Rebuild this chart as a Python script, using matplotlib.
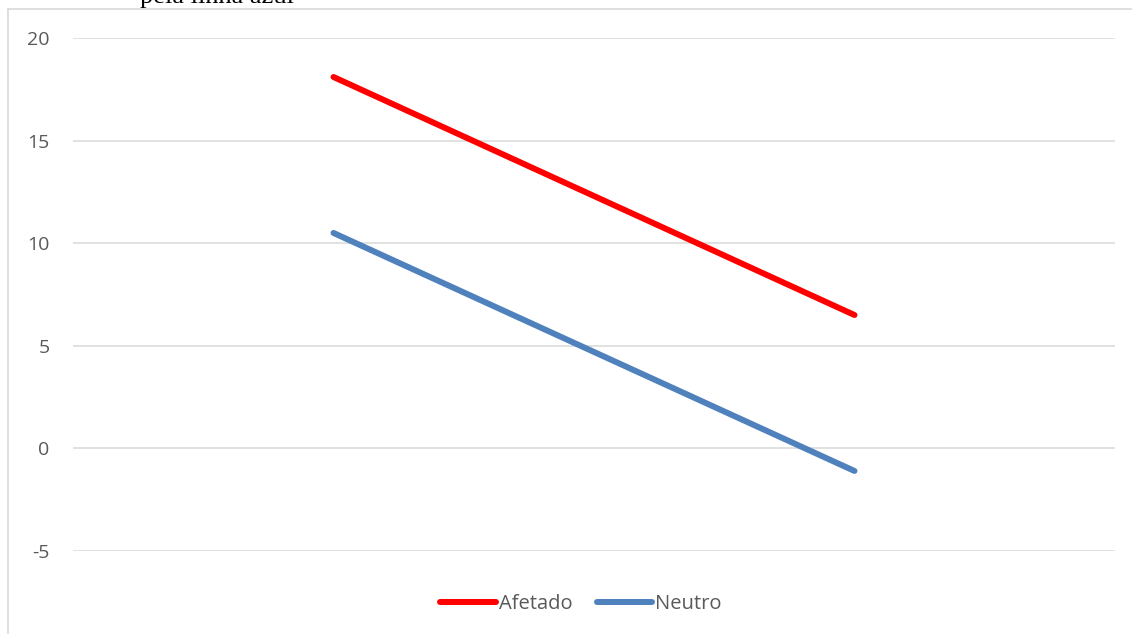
import matplotlib.pyplot as plt

# dados do gráfico
categorias = ['Antes', 'Depois']
afetado = [18.1, 6.5]
neutro = [10.5, -1.1]
yticks = [-5, 0, 5, 10, 15, 20]

plt.rcParams['font.family'] = ['Open Sans', 'DejaVu Sans']

fig = plt.figure(figsize=(11.32, 6.34), dpi=100)
W, H = 1132, 634

# moldura do gráfico (sem lado direito/baixo visíveis)
fig.add_artist(plt.Line2D([8 / W, 1], [1 - 9 / H, 1 - 9 / H], color='#d9d9d9', lw=1.2))
fig.add_artist(plt.Line2D([8 / W, 8 / W], [0, 1 - 9 / H], color='#d9d9d9', lw=1.2))

# resto do texto da legenda da figura, cortado no topo
fig.text(140 / W, 1 - 3 / H, 'pela linha azul', family='Liberation Serif',
         fontsize=19, ha='left', va='baseline', color='black')

ax = fig.add_axes([73 / W, (634 - 551) / H, (1115 - 73) / W, (551 - 38) / H])
x = range(len(categorias))
ax.plot(x, afetado, color='#ff0000', lw=4.3, solid_capstyle='round', label='Afetado')
ax.plot(x, neutro, color='#4f81bd', lw=4.3, solid_capstyle='round', label='Neutro')

ax.set_xlim(-0.5, len(categorias) - 0.5)
ax.set_ylim(-5, 20)
ax.set_yticks(yticks)
ax.set_yticklabels([str(v) for v in yticks], color='#595959', fontsize=14)
ax.set_xticks([])
for v in yticks:
    ax.axhline(v, color='#d9d9d9', lw=1.1, zorder=0)
for s in ax.spines.values():
    s.set_visible(False)
ax.tick_params(axis='y', length=0, pad=17)

fig.legend(loc='center', bbox_to_anchor=(581 / W, 30 / H), ncol=2, frameon=False,
           fontsize=14.5, handlelength=2.75, handletextpad=0.15, columnspacing=1.2,
           labelcolor='#595959')

fig.savefig('out.png', dpi=100)
